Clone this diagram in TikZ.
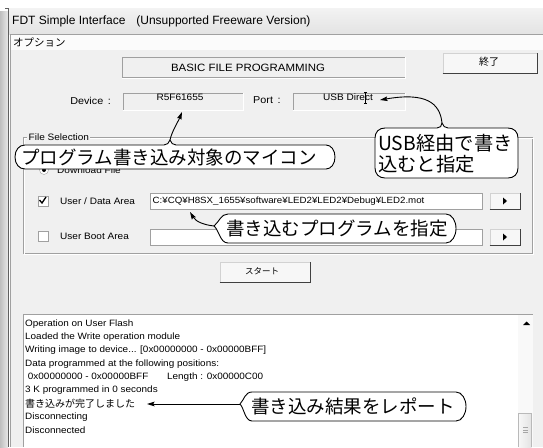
\documentclass[tikz,border=0pt]{standalone}
\usepackage{fontspec}
\setmainfont{Liberation Sans}
\newfontfamily\uifont{Liberation Sans}[FakeStretch=1.08]
\newfontfamily\jpfont{Noto Sans CJK JP}
\usetikzlibrary{arrows.meta}
\definecolor{winbg}{HTML}{F0F0F0}
\definecolor{frameedge}{HTML}{A0A0A0}
\definecolor{darkedge}{HTML}{404040}
\tikzset{
  ui/.style={inner sep=0pt, font=\uifont\fontsize{9.3}{11}\selectfont},
  uiw/.style={ui, anchor=west},
  jpui/.style={inner sep=0pt, font=\jpfont\fontsize{#1}{#1}\selectfont},
  jpui/.default=10,
  logline/.style={anchor=west, inner sep=0pt, font=\uifont\fontsize{9.2}{11}\selectfont},
  sunk/.style={draw=frameedge, line width=0.8pt, fill=winbg, inner sep=0pt},
  hilite/.style={draw=white, line width=0.8pt},
  raised/.style={draw=gray!35, line width=0.8pt, fill=gray!6, inner sep=0pt},
  shadowedge/.style={draw=darkedge, line width=1.1pt},
  editbox/.style={draw=frameedge, line width=0.8pt, fill=white, inner sep=0pt},
  chkbox/.style={draw=frameedge, line width=0.8pt, fill=white, inner sep=0pt, minimum size=10pt},
  callout/.style={draw=black, line width=0.9pt, fill=white, line join=round},
  calltext/.style={inner sep=0pt, anchor=west, font=\jpfont\fontsize{18.5}{21}\selectfont},
  pointer/.style={draw=black, line width=0.9pt, -{Stealth[length=7.5pt,width=4.6pt,inset=1.2pt]}},
}
\begin{document}
\begin{tikzpicture}[x=1pt,y=-1pt]
\useasboundingbox (0,0) rectangle (543,447);
\fill[white] (0,0) rectangle (543,447);

% outer window frame on the left
\shade[left color=gray!50, right color=gray!18] (0,11) rectangle (8,447);
\draw[gray!75!black, line width=0.8pt] (8.6,8) -- (8.6,447);
\draw[gray!75!black, line width=0.8pt] (5,8.4) -- (12,8.4);

% title bar
\shade[top color=gray!10, bottom color=gray!22] (9,8.8) rectangle (543,34);
\node[anchor=west, inner sep=0pt, font=\fontsize{12}{14}\selectfont] (title) at (12,21.5)
  {FDT Simple Interface\hspace{0.9em}(Unsupported Freeware Version)};

% client area and menu bar
\fill[winbg] (10,34) rectangle (543,447);
\fill[gray!3] (11,35) rectangle (543,50);
\draw[frameedge, line width=0.8pt] (10.4,447) -- (10.4,34.4) -- (543,34.4);
\node[jpui=10.5, anchor=west] (menu) at (13,42.5) {オプション};

% mode display
\node[sunk, minimum width=283pt, minimum height=20pt] (modebox) at (263.5,67.5) {};
\draw[hilite] (modebox.south west) -- (modebox.south east) -- (modebox.north east);
\node[ui, font=\uifont\fontsize{10.6}{12}\selectfont] (modetext) at (248,67.5) {BASIC FILE PROGRAMMING};

% quit button
\node[raised, minimum width=94pt, minimum height=20pt] (quit) at (490,63) {};
\draw[shadowedge] (quit.south west) -- (quit.south east) -- (quit.north east);
\node[jpui=10] (quittext) at (489,62) {終了};

% device and port
\node[ui, anchor=east, font=\uifont\fontsize{10}{12}\selectfont] (devlabel) at (111,100.5) {Device\hspace{1.5pt} :};
\node[sunk, minimum width=120pt, minimum height=17pt] (devbox) at (183,101.5) {};
\draw[hilite] (devbox.south west) -- (devbox.south east) -- (devbox.north east);
\node[ui] (devtext) at (180,97.5) {R5F61655};

\node[uiw, font=\uifont\fontsize{10}{12}\selectfont] (portlabel) at (253,100.5) {Port\hspace{1.5pt} :};
\node[sunk, minimum width=112pt, minimum height=17pt] (portbox) at (349,101.5) {};
\draw[hilite] (portbox.south west) -- (portbox.south east) -- (portbox.north east);
\node[ui] (porttext) at (348,97.5) {USB Direct};
% text cursor over the port name
\draw[line width=0.6pt] (365.5,92.5) -- (365.5,103.5)
  (364,92.5) -- (367,92.5) (364,103.5) -- (367,103.5);

% file selection group
\draw[frameedge, line width=0.8pt] (23,137.5) rectangle (532.5,253.5);
\draw[white, line width=0.8pt] (24,138.5) rectangle (533.5,254.5);
\node[uiw, fill=winbg, inner xsep=1.5pt] (grouplabel) at (27,137.5) {File Selection};

\node[draw=frameedge, circle, fill=white, minimum size=9pt, inner sep=0pt] (radio) at (44,170) {};
\fill (radio.center) circle (2);
\node[uiw] (dltext) at (57,170.5) {Download File};

\node[chkbox] (chkuser) at (43,201) {};
\draw[line width=1.3pt] (39.5,200) -- (42,203) -- (46,197);
\node[uiw] (usertext) at (60,201) {User / Data Area};
\node[editbox, minimum width=332pt, minimum height=16pt] (userbox) at (316,201) {};
\node[uiw, font=\uifont\fontsize{9}{11}\selectfont] (userpath) at (152.5,201)
  {C:¥CQ¥H8SX\_1655¥software¥LED2¥LED2¥Debug¥LED2.mot};
\node[raised, minimum width=30pt, minimum height=16pt] (userbtn) at (505,201) {};
\draw[shadowedge] (userbtn.south west) -- (userbtn.south east) -- (userbtn.north east);
\fill (503,197.5) -- (507,201) -- (503,204.5) -- cycle;

\node[chkbox] (chkboot) at (43,236) {};
\node[uiw] (boottext) at (60,236.5) {User Boot Area};
\node[editbox, minimum width=332pt, minimum height=16pt] (bootbox) at (316,237) {};
\node[raised, minimum width=30pt, minimum height=16pt] (bootbtn) at (505,237) {};
\draw[shadowedge] (bootbtn.south west) -- (bootbtn.south east) -- (bootbtn.north east);
\fill (503,233.5) -- (507,237) -- (503,240.5) -- cycle;

% start button
\node[raised, minimum width=90pt, minimum height=20pt] (start) at (265,272) {};
\draw[shadowedge] (start.south west) -- (start.south east) -- (start.north east);
\node[jpui=8.5] (starttext) at (262,271.5) {スタート};

% log panel
\fill[white] (23,314) rectangle (533,447);
\draw[frameedge, line width=0.8pt] (23.4,447) -- (23.4,314.4) -- (533,314.4);
\fill[gray!5] (518,315) rectangle (532.5,447);
\fill (523,325) -- (526.5,321.5) -- (530,325) -- cycle;
\shade[left color=gray!6, right color=gray!22] (518.5,413) rectangle (531.5,447);
\draw[gray!55, line width=0.8pt] (518.5,447) -- (518.5,413) -- (531.5,413) -- (531.5,447);
\draw[gray!70, line width=0.7pt] (523,427.5) -- (528,427.5) (523,430) -- (528,430) (523,432.5) -- (528,432.5);

\node[logline] (log1) at (25,324) {Operation on User Flash};
\node[logline] (log2) at (25,337.3) {Loaded the Write operation module};
\node[logline] (log3) at (25,350.6) {Writing image to device... [0x00000000 - 0x00000BFF]};
\node[logline] (log4) at (25,363.9) {Data programmed at the following positions:};
\node[logline] (log5) at (25,377.2) {\makebox[142pt][l]{\ 0x00000000 - 0x00000BFF}Length : 0x00000C00};
\node[logline] (log6) at (25,390.5) {3 K programmed in 0 seconds};
\node[logline, font=\jpfont\fontsize{10}{12}\selectfont] (log7) at (25,403.8) {書き込みが完了しました};
\node[logline] (log8) at (25,417.1) {Disconnecting};
\node[logline] (log9) at (25,430.4) {Disconnected};

% callout: target device
\coordinate (tipdev) at (170,140);
\draw[callout] (25,145) -- (164,145) .. controls (167,145) and (169,143) .. (tipdev)
  .. controls (171,143) and (173,145) .. (176,145) -- (326,145)
  .. controls (331,145) and (335,150) .. (335,157) .. controls (335,164) and (331,169) .. (326,169)
  -- (25,169) .. controls (19,169) and (15,164) .. (15,157) .. controls (15,150) and (19,145) .. (25,145) -- cycle;
\node[calltext] (calldev) at (21,157) {プログラム書き込み対象のマイコン};
\coordinate (devmark) at (182,112);
\draw[pointer] (tipdev) .. controls (172,131) and (178,122) .. (devmark);

% callout: port
\coordinate (tipport) at (442,123);
\draw[callout] (385,128) -- (437,128) .. controls (440,128) and (442,126) .. (tipport)
  .. controls (443,126) and (445,128) .. (448,128) -- (508,128)
  .. controls (514,128) and (518,132) .. (518,138) -- (518,168)
  .. controls (518,174) and (514,178) .. (508,178) -- (385,178)
  .. controls (379,178) and (375,174) .. (375,168) -- (375,138)
  .. controls (375,132) and (379,128) .. (385,128) -- cycle;
\node[calltext, font=\jpfont\fontsize{19.3}{21}\selectfont] (callport1) at (378,143.5) {USB経由で書き};
\node[calltext, font=\jpfont\fontsize{19.3}{21}\selectfont] (callport2) at (378,164) {込むと指定};
\coordinate (portmark) at (380,100);
\draw[pointer] (tipport) .. controls (440,103) and (426,92) .. (portmark);

% callout: program file
\coordinate (tipfile) at (214,226);
\draw[callout] (228,214) -- (446,214) .. controls (452,214) and (456,221) .. (456,228.5)
  .. controls (456,236) and (452,243) .. (446,243) -- (228,243)
  .. controls (220,243) and (219,230) .. (tipfile)
  .. controls (219,222) and (221,214) .. (228,214) -- cycle;
\node[calltext] (callfile) at (226,228.5) {書き込むプログラムを指定};
\coordinate (filemark) at (190,212);
\draw[pointer] (tipfile) .. controls (205,225) and (196,222) .. (filemark);

% callout: result report
\coordinate (tipres) at (240,404);
\draw[callout] (252,392) -- (456,392) .. controls (462,392) and (466,399) .. (466,406.5)
  .. controls (466,414) and (462,421) .. (456,421) -- (252,421)
  .. controls (245,421) and (244,408) .. (tipres)
  .. controls (244,400) and (245,392) .. (252,392) -- cycle;
\node[calltext] (callres) at (251,406.5) {書き込み結果をレポート};
\coordinate (resmark) at (147,404);
\draw[pointer] (tipres) -- (resmark);
\end{tikzpicture}
\end{document}
